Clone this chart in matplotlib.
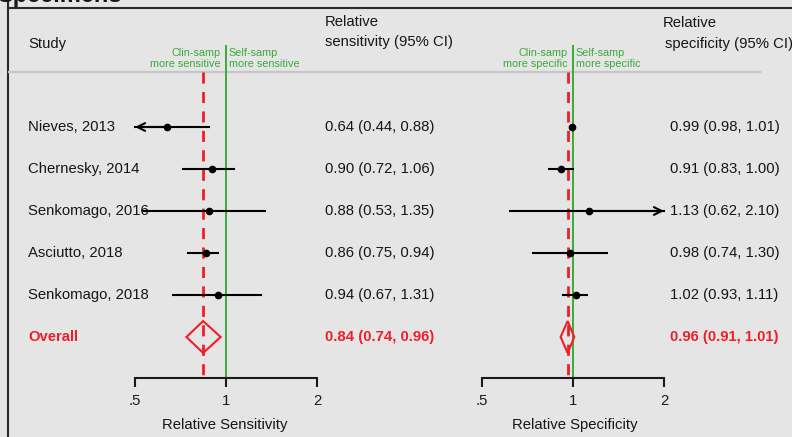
import numpy as np
import matplotlib.pyplot as plt
from matplotlib.ticker import NullLocator

plt.rcParams['font.family'] = ['Liberation Sans', 'DejaVu Sans']

# Datos del forest plot
studies = ['Nieves, 2013', 'Chernesky, 2014', 'Senkomago, 2016',
           'Asciutto, 2018', 'Senkomago, 2018']
sens = [0.64, 0.90, 0.88, 0.86, 0.94]
sens_lo = [0.44, 0.72, 0.53, 0.75, 0.67]
sens_hi = [0.88, 1.06, 1.35, 0.94, 1.31]
spec = [0.99, 0.91, 1.13, 0.98, 1.02]
spec_lo = [0.98, 0.83, 0.62, 0.74, 0.93]
spec_hi = [1.01, 1.00, 2.10, 1.30, 1.11]
sens_overall = (0.84, 0.74, 0.96)
spec_overall = (0.96, 0.91, 1.01)
ticks = [0.5, 1, 2]
tick_labels = ['.5', '1', '2']

BG = '#e5e5e5'
RED = '#ee1f26'
GREEN = '#3aaa3a'
TXT = '#161616'
FS = 10.7

W, H = 792, 437
fig = plt.figure(figsize=(W / 100, H / 100), dpi=100)
fig.patch.set_facecolor(BG)

# Eje de fondo en pixeles para textos y marco
ax0 = fig.add_axes([0, 0, 1, 1])
ax0.set_xlim(0, W)
ax0.set_ylim(H, 0)
ax0.axis('off')

# filas: y pixel = 127 + 42*i
row0, dy = 127, 42
ylim = ((H - row0) / dy, (0 - row0) / dy)
axis_row = (378 - row0) / dy
header_row = (72 - row0) / dy
green_top = (45 - row0) / dy


def px_row(i):
    return row0 + dy * i


ax0.text(-3, 2, 'Specimens', fontsize=17, fontweight='bold', color=TXT,
         va='baseline', ha='left')
ax0.plot([8, W], [7.5, 7.5], color='#2a2a2a', lw=1.5)
ax0.plot([8, 8], [0, H], color='#2a2a2a', lw=1.5)
ax0.plot([9, 760], [72, 72], color='#c6c6c6', lw=1.6)

# Encabezados
ax0.text(28, 44, 'Study', fontsize=FS, color=TXT, va='center')
ax0.text(325, 22, 'Relative', fontsize=FS, color=TXT, va='center')
ax0.text(325, 42, 'sensitivity (95% CI)', fontsize=FS, color=TXT, va='center')
ax0.text(663, 23, 'Relative', fontsize=FS, color=TXT, va='center')
ax0.text(665, 44, 'specificity (95% CI)', fontsize=FS, color=TXT, va='center')

for i, name in enumerate(studies):
    y = px_row(i)
    ax0.text(28, y, name, fontsize=FS, color=TXT, va='center')
    ax0.text(325, y, f'{sens[i]:.2f} ({sens_lo[i]:.2f}, {sens_hi[i]:.2f})',
             fontsize=FS, color=TXT, va='center')
    ax0.text(670, y, f'{spec[i]:.2f} ({spec_lo[i]:.2f}, {spec_hi[i]:.2f})',
             fontsize=FS, color=TXT, va='center')

y = px_row(len(studies))
ax0.text(28, y, 'Overall', fontsize=FS, color=RED, va='center', fontweight='bold')
ax0.text(325, y, '%.2f (%.2f, %.2f)' % sens_overall, fontsize=FS, color=RED,
         va='center', fontweight='bold')
ax0.text(670, y, '%.2f (%.2f, %.2f)' % spec_overall, fontsize=FS, color=RED,
         va='center', fontweight='bold')


def forest(left_px, right_px, one_px, est, lo, hi, overall, xlabel, word):
    ppd = 91.0
    ax = fig.add_axes([left_px / W, 0, (right_px - left_px) / W, 1])
    ax.set_facecolor('none')
    ax.set_xscale('log', base=2)
    ax.set_xlim(2 ** ((left_px - one_px) / ppd), 2 ** ((right_px - one_px) / ppd))
    ax.set_ylim(*ylim)
    xmin, xmax = ticks[0], ticks[-1]

    ax.vlines(1, green_top, axis_row, color=GREEN, lw=1.4, zorder=2)
    ax.vlines(overall[0], header_row, axis_row, color=RED, lw=2,
              linestyles=(0, (4, 3)), zorder=2)

    for i in range(len(est)):
        a, b = max(lo[i], xmin), min(hi[i], xmax)
        ax.plot([a, b], [i, i], color='black', lw=1.5, zorder=3)
        if lo[i] < xmin:
            ax.annotate('', xy=(xmin, i), xytext=(est[i], i),
                        arrowprops=dict(arrowstyle='->', color='black', lw=1.5,
                                        shrinkA=0, shrinkB=0,
                                        mutation_scale=14), zorder=3)
        if hi[i] > xmax:
            ax.annotate('', xy=(xmax, i), xytext=(est[i], i),
                        arrowprops=dict(arrowstyle='->', color='black', lw=1.5,
                                        shrinkA=0, shrinkB=0,
                                        mutation_scale=14), zorder=3)
        ax.plot(est[i], i, 'o', color='black', ms=4.5, zorder=4)

    r = len(est)
    e, l, h = overall
    hh = 0.38
    ax.fill([l, e, h, e, l], [r, r - hh, r, r + hh, r], facecolor='none',
            edgecolor=RED, lw=1.5, zorder=4)

    ax.annotate('Clin-samp\nmore ' + word, xy=(1, header_row), xytext=(-4, 2),
                textcoords='offset points', ha='right', va='bottom',
                fontsize=7.8, color=GREEN, linespacing=1.15)
    ax.annotate('Self-samp\nmore ' + word, xy=(1, header_row), xytext=(2, 2),
                textcoords='offset points', ha='left', va='bottom',
                fontsize=7.8, color=GREEN, linespacing=1.15)

    for s in ['top', 'left', 'right']:
        ax.spines[s].set_visible(False)
    ax.spines['bottom'].set_position(('data', axis_row))
    ax.spines['bottom'].set_bounds(xmin, xmax)
    ax.spines['bottom'].set_linewidth(1.5)
    ax.spines['bottom'].set_color('#1a1a1a')
    ax.set_xticks(ticks)
    ax.set_xticklabels(tick_labels)
    ax.xaxis.set_minor_locator(NullLocator())
    ax.tick_params(axis='x', direction='out', length=6.5, width=1.5,
                   labelsize=FS, pad=5, colors='#1a1a1a')
    ax.set_yticks([])
    ax.set_xlabel(xlabel, fontsize=FS, color=TXT, labelpad=7)
    return ax


forest(110, 340, 226, sens, sens_lo, sens_hi, sens_overall,
       'Relative Sensitivity', 'sensitive')
forest(460, 690, 573, spec, spec_lo, spec_hi, spec_overall,
       'Relative Specificity', 'specific')

fig.savefig('out.png', dpi=100, facecolor=BG)
